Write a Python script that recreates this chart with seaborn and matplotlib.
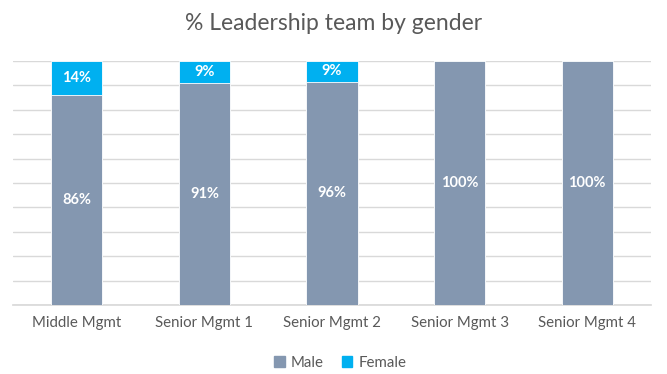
import matplotlib
matplotlib.use("Agg")
import matplotlib.pyplot as plt
import seaborn as sns
import pandas as pd
import numpy as np
from matplotlib.patches import Patch

categories = ["Middle Mgmt", "Senior Mgmt 1", "Senior Mgmt 2", "Senior Mgmt 3", "Senior Mgmt 4"]
male = [86, 91, 96, 100, 100]
female = [14, 9, 9, 0, 0]

male_color = "#8497B0"
female_color = "#00B0F0"
text_color = "#595959"

sns.set_theme(style="white")
plt.rcParams["font.family"] = ["Lato", "DejaVu Sans"]

total = np.array(male, float) + np.array(female, float)
male_pct = np.array(male) / total * 100
female_pct = np.array(female) / total * 100

df = pd.DataFrame({"category": categories,
                   "male_pct": male_pct,
                   "stack_top": male_pct + female_pct})

fig = plt.figure(figsize=(6.67, 3.74), dpi=100)
ax = fig.add_axes([0.0195, 0.1845, 0.9565, 0.6525])

sns.barplot(data=df, x="category", y="stack_top", color=female_color, width=0.4,
            saturation=1, ax=ax, edgecolor="white", linewidth=0.6, zorder=2)
sns.barplot(data=df, x="category", y="male_pct", color=male_color, width=0.4,
            saturation=1, ax=ax, edgecolor="white", linewidth=0.6, zorder=3)

for i in range(len(categories)):
    ax.text(i, male_pct[i] / 2, f"{male[i]}%", ha="center", va="center",
            color="white", fontsize=10.5, fontweight="bold", zorder=5)
    if female[i] > 0:
        ax.text(i, male_pct[i] + female_pct[i] / 2, f"{female[i]}%", ha="center",
                va="center", color="white", fontsize=10.5, fontweight="bold", zorder=5)

ax.set_ylim(0, 100)
ax.set_xlim(-0.5, len(categories) - 0.5)
ax.set_yticks(np.arange(0, 101, 10))
ax.set_yticklabels([])
ax.tick_params(axis="y", length=0)
ax.tick_params(axis="x", length=0, labelsize=10.8, labelcolor=text_color, pad=8)
ax.yaxis.grid(True, color="#D9D9D9", linewidth=1)
ax.set_axisbelow(True)
ax.set_xlabel("")
ax.set_ylabel("")
for s in ["top", "right", "left"]:
    ax.spines[s].set_visible(False)
ax.spines["bottom"].set_color("#D9D9D9")

fig.suptitle("% Leadership team by gender", y=0.965, fontsize=16.5, color=text_color)

handles = [Patch(color=male_color, label="Male"), Patch(color=female_color, label="Female")]
fig.legend(handles=handles, loc="center", bbox_to_anchor=(0.51, 0.03), ncol=2,
           frameon=False, fontsize=10.8, labelcolor=text_color,
           handlelength=0.7, handleheight=0.7, handletextpad=0.4, columnspacing=1.2)

fig.savefig("out.png", dpi=100)
